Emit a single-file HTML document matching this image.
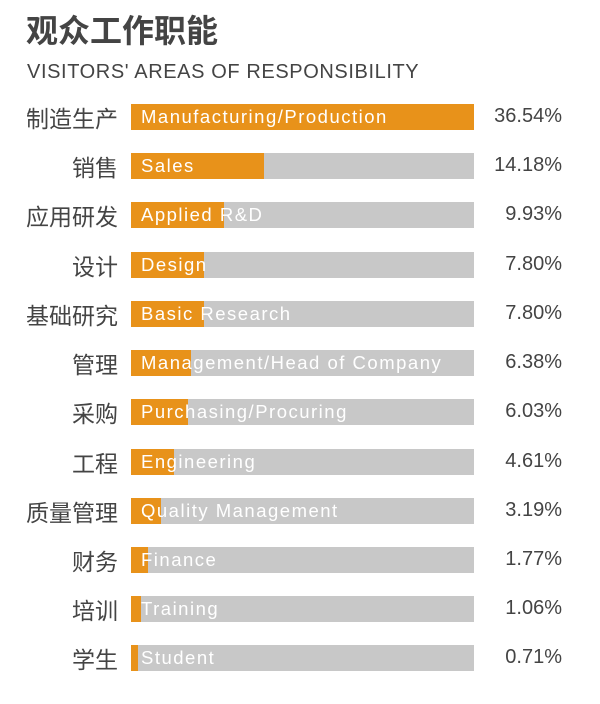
<html><head><style>
body{margin:0;width:600px;height:704px;background:#fff;position:relative;font-family:"Liberation Sans","Noto Sans CJK SC",sans-serif;overflow:hidden}
.t{position:absolute;left:26px;top:6px;font-size:32px;font-weight:bold;color:#444}
.s{position:absolute;left:27px;top:61px;font-size:20px;color:#444;letter-spacing:0.6px}
.r{position:absolute;left:0;width:600px;height:26px}
.l{position:absolute;right:482px;top:-4px;font-size:23px;color:#444;white-space:nowrap}
.b{position:absolute;left:131px;width:343px;height:26px;background:#c8c8c8}
.o{position:absolute;left:0;top:0;height:26px;background:#e8921a}
.n{position:absolute;left:10px;top:2px;font-size:18.5px;color:#fff;white-space:nowrap;letter-spacing:1.5px}
.p{position:absolute;right:38px;top:1px;font-size:20px;color:#444}
</style></head><body>
<div class="t">观众工作职能</div>
<div class="s">VISITORS' AREAS OF RESPONSIBILITY</div>
<div class="r" style="top:104px"><div class="l">制造生产</div><div class="b"><div class="o" style="width:343px"></div><div class="n">Manufacturing/Production</div></div><div class="p">36.54%</div></div>
<div class="r" style="top:153px"><div class="l">销售</div><div class="b"><div class="o" style="width:133px"></div><div class="n">Sales</div></div><div class="p">14.18%</div></div>
<div class="r" style="top:202px"><div class="l">应用研发</div><div class="b"><div class="o" style="width:93px"></div><div class="n">Applied R&amp;D</div></div><div class="p">9.93%</div></div>
<div class="r" style="top:252px"><div class="l">设计</div><div class="b"><div class="o" style="width:73px"></div><div class="n">Design</div></div><div class="p">7.80%</div></div>
<div class="r" style="top:301px"><div class="l">基础研究</div><div class="b"><div class="o" style="width:73px"></div><div class="n">Basic Research</div></div><div class="p">7.80%</div></div>
<div class="r" style="top:350px"><div class="l">管理</div><div class="b"><div class="o" style="width:60px"></div><div class="n">Management/Head of Company</div></div><div class="p">6.38%</div></div>
<div class="r" style="top:399px"><div class="l">采购</div><div class="b"><div class="o" style="width:57px"></div><div class="n">Purchasing/Procuring</div></div><div class="p">6.03%</div></div>
<div class="r" style="top:449px"><div class="l">工程</div><div class="b"><div class="o" style="width:43px"></div><div class="n">Engineering</div></div><div class="p">4.61%</div></div>
<div class="r" style="top:498px"><div class="l">质量管理</div><div class="b"><div class="o" style="width:30px"></div><div class="n">Quality Management</div></div><div class="p">3.19%</div></div>
<div class="r" style="top:547px"><div class="l">财务</div><div class="b"><div class="o" style="width:17px"></div><div class="n">Finance</div></div><div class="p">1.77%</div></div>
<div class="r" style="top:596px"><div class="l">培训</div><div class="b"><div class="o" style="width:10px"></div><div class="n">Training</div></div><div class="p">1.06%</div></div>
<div class="r" style="top:645px"><div class="l">学生</div><div class="b"><div class="o" style="width:7px"></div><div class="n">Student</div></div><div class="p">0.71%</div></div>
</body></html>
